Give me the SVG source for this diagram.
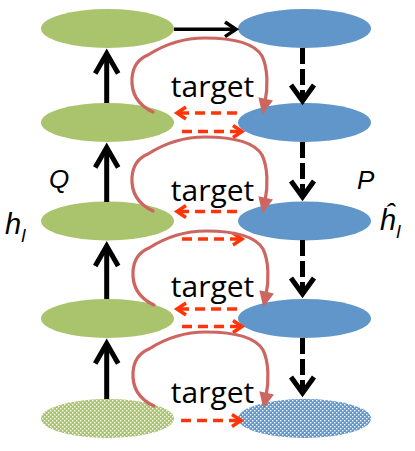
<svg xmlns="http://www.w3.org/2000/svg" width="415" height="451" viewBox="0 0 415 451">
<style>
.g{fill:#A9C46C}
.b{fill:#6096C9}
.blk{fill:none;stroke:#000;stroke-width:5}
.blkh{fill:none;stroke:#000;stroke-width:5;stroke-linejoin:miter;stroke-miterlimit:10}
.dash{stroke-dasharray:16 5}
.red{fill:none;stroke:#FF3408;stroke-width:3.5}
.redd{stroke-dasharray:10 6}
.loop{fill:none;stroke:#CD6660;stroke-width:3.2;stroke-linecap:round;stroke-linejoin:round;marker-end:url(#loopHead)}
.t{font-family:"Open Sans","Liberation Sans",sans-serif;font-size:30px;fill:#000}
.lab{font-family:"Liberation Sans","Open Sans",sans-serif;font-style:italic;fill:#000}
.big{font-size:26px}
.hl{font-size:29px}
.sub{font-size:19px}
</style>
<defs>
<marker id="loopHead" markerUnits="userSpaceOnUse" markerWidth="16" markerHeight="16" viewBox="0 0 15 14" refX="3" refY="7" orient="auto" overflow="visible">
<path d="M0,0 L15,7 L0,14 z" fill="#CD6660"/>
</marker>
<pattern id="gDots" patternUnits="userSpaceOnUse" width="4" height="4">
<rect width="4" height="4" fill="#A9C46C"/>
<rect x="0" y="0" width="1.4" height="1.4" fill="#fff"/>
<rect x="2" y="2" width="1.4" height="1.4" fill="#fff"/>
</pattern>
<pattern id="bDots" patternUnits="userSpaceOnUse" width="4" height="4">
<rect width="4" height="4" fill="#6096C9"/>
<rect x="0" y="0" width="1.4" height="1.4" fill="#fff"/>
<rect x="2" y="2" width="1.4" height="1.4" fill="#fff"/>
</pattern>
</defs>

<g id="q1"><ellipse class="g" cx="107.5" cy="28.5" rx="66.5" ry="19.5"/></g>
<g id="q2"><ellipse class="g" cx="107.5" cy="122.5" rx="66.5" ry="19.5"/></g>
<g id="q3"><ellipse class="g" cx="107.5" cy="221" rx="66.5" ry="19.5"/></g>
<g id="q4"><ellipse class="g" cx="107.5" cy="318.5" rx="66.5" ry="19.5"/></g>
<g id="q5"><ellipse cx="107.5" cy="418.5" rx="66.5" ry="19.5" fill="url(#gDots)"/></g>
<g id="p1"><ellipse class="b" cx="304.5" cy="28.5" rx="66.5" ry="19.5"/></g>
<g id="p2"><ellipse class="b" cx="304.5" cy="122.5" rx="66.5" ry="19.5"/></g>
<g id="p3"><ellipse class="b" cx="304.5" cy="221" rx="66.5" ry="19.5"/></g>
<g id="p4"><ellipse class="b" cx="304.5" cy="318.5" rx="66.5" ry="19.5"/></g>
<g id="p5"><ellipse cx="304.5" cy="418.5" rx="66.5" ry="19.5" fill="url(#bDots)"/></g>

<g id="connectors">
<g id="top-arrow">
<path d="M174,29.3 L235,29.3" fill="none" stroke="#000" stroke-width="3.5"/>
<path d="M225,22 L236,29.3 L225,36.6" fill="none" stroke="#000" stroke-width="3.5"/>
</g>
<g id="up-arrows">
<path class="blk" d="M106.7,103 L106.7,56"/><path class="blkh" d="M95.2,73.5 L106.7,53.5 L118.2,73.5"/>
<path class="blk" d="M106.7,202 L106.7,150"/><path class="blkh" d="M95.2,167.5 L106.7,147.5 L118.2,167.5"/>
<path class="blk" d="M106.7,299 L106.7,248"/><path class="blkh" d="M95.2,266 L106.7,246 L118.2,266"/>
<path class="blk" d="M106.7,399 L106.7,345"/><path class="blkh" d="M95.2,363.5 L106.7,343.5 L118.2,363.5"/>
</g>
<g id="down-arrows">
<path class="blk dash" d="M302.5,48 L302.5,100"/><path class="blkh" d="M291,85 L302.5,101 L314,85"/>
<path class="blk dash" d="M302.5,142 L302.5,197"/><path class="blkh" d="M291,181 L302.5,197 L314,181"/>
<path class="blk dash" d="M302.5,240 L302.5,294"/><path class="blkh" d="M291,278 L302.5,294 L314,278"/>
<path class="blk dash" d="M302.5,338 L302.5,393"/><path class="blkh" d="M291,377 L302.5,393 L314,377"/>
</g>
<g id="red-arrows">
<path class="red redd" d="M237,113 L180,113"/><path class="red" d="M186,107 L177,113 L186,119"/>
<path class="red redd" d="M182,131.5 L240,131.5"/><path class="red" d="M233,125.5 L242,131.5 L233,137.5"/>
<path class="red redd" d="M237,211.5 L180,211.5"/><path class="red" d="M186,205.5 L177,211.5 L186,217.5"/>
<path class="red redd" d="M182,239 L240,239"/><path class="red" d="M233,233 L242,239 L233,245"/>
<path class="red redd" d="M237,309 L180,309"/><path class="red" d="M186,303 L177,309 L186,315"/>
<path class="red redd" d="M182,326.5 L240,326.5"/><path class="red" d="M233,320.5 L242,326.5 L233,332.5"/>
<path class="red redd" d="M181,420.5 L239,420.5"/><path class="red" d="M232,414.5 L241,420.5 L232,426.5"/>
</g>
<g id="loops">
<path class="loop" d="M153,112 C140,106 131,95 132,78 C133,66 138,59 148,55 C162,46 180,38 205,38 C235,38 255,44 262,56 C268,68 268,88 265,102"/>
<path class="loop" transform="translate(0,99)" d="M153,112 C140,106 131,95 132,78 C133,66 138,59 148,55 C162,46 180,38 205,38 C235,38 255,44 262,56 C268,68 268,88 265,102"/>
<path class="loop" transform="translate(1,193)" d="M153,112 C140,106 131,95 132,78 C133,66 138,59 148,55 C162,46 180,38 205,38 C235,38 255,44 262,56 C268,68 268,88 265,102"/>
<path class="loop" transform="translate(1,294)" d="M153,112 C140,106 131,95 132,78 C133,66 138,59 148,55 C162,46 180,38 205,38 C235,38 255,44 262,56 C268,68 268,88 265,102"/>
</g>
</g>

<g id="labels">
<text class="t" x="212.5" y="96.5" text-anchor="middle">target</text>
<text class="t" x="212.5" y="201" text-anchor="middle">target</text>
<text class="t" x="212.5" y="297" text-anchor="middle">target</text>
<text class="t" x="212.5" y="403" text-anchor="middle">target</text>
<text class="lab big" x="49" y="188">Q</text>
<text class="lab big" x="357" y="189">P</text>
<text class="lab hl" x="5" y="234">h<tspan class="sub" dy="8">l</tspan></text>
<text class="lab hl" x="380" y="230">ĥ<tspan class="sub" dy="8">l</tspan></text>
</g>
</svg>
